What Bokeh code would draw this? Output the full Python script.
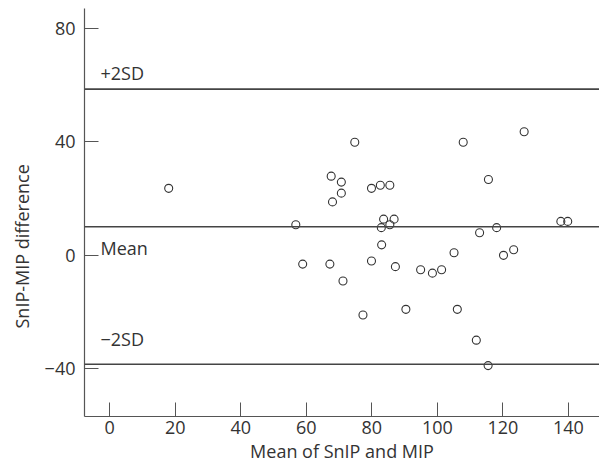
from bokeh.plotting import figure
from bokeh.models import Span, Label, Range1d, FixedTicker, Title
from bokeh.embed import file_html
from bokeh.resources import INLINE

# Bland-Altman data: mean of SnIP and MIP vs difference
mean_vals = [18.0, 56.8, 58.9, 67.2, 67.6, 68.0, 70.7, 70.7, 71.2, 74.8,
             77.3, 79.9, 79.9, 82.6, 82.9, 83.0, 83.6, 85.5, 85.5, 86.8,
             87.2, 90.4, 94.9, 98.5, 101.3, 105.1, 106.1, 107.9, 111.9, 112.9,
             115.6, 115.5, 118.1, 120.2, 123.3, 126.5, 137.7, 139.8]
diff_vals = [23.6, 10.7, -3.2, -3.2, 27.9, 18.8, 25.8, 21.9, -9.2, 39.9,
             -21.2, 23.6, -2.1, 24.7, 9.7, 3.6, 12.7, 24.7, 10.7, 12.7,
             -4.1, -19.2, -5.2, -6.4, -5.2, 0.8, -19.2, 39.9, -30.1, 7.9,
             26.7, -39.1, 9.7, -0.1, 1.9, 43.6, 11.9, 11.9]
mean_diff = 10.0
upper_sd = 58.7
lower_sd = -38.6
x_ticks = [0, 20, 40, 60, 80, 100, 120, 140]
y_ticks = [-40, 0, 40, 80]

FONT = "Open Sans"
FS = "18px"
TXT = "#333333"

p = figure(width=599, height=466, output_backend="svg", toolbar_location=None,
           x_range=Range1d(-7.7, 149.5), y_range=Range1d(-57.1, 87.2),
           min_border_left=84, min_border_right=0, min_border_top=8,
           min_border_bottom=50)
p.outline_line_color = None
p.grid.visible = False

for ax in (p.xaxis[0], p.yaxis[0]):
    ax.axis_line_color = "#555555"
    ax.axis_line_width = 1.2
    ax.major_tick_line_color = "#555555"
    ax.major_tick_in = 14
    ax.major_tick_out = 0
    ax.minor_tick_line_color = None
    ax.major_label_text_font = FONT
    ax.major_label_text_font_size = FS
    ax.major_label_text_color = TXT

p.xaxis[0].ticker = FixedTicker(ticks=x_ticks)
p.yaxis[0].ticker = FixedTicker(ticks=y_ticks)
p.yaxis[0].major_label_standoff = 9
p.xaxis[0].major_label_standoff = 4
p.yaxis[0].major_label_overrides = {-40: "\u221240"}

p.xaxis[0].axis_label = "Mean of SnIP and MIP"
p.xaxis[0].axis_label_text_font = FONT
p.xaxis[0].axis_label_text_font_size = FS
p.xaxis[0].axis_label_text_font_style = "normal"
p.xaxis[0].axis_label_text_color = TXT
p.xaxis[0].axis_label_standoff = 2

for val in (upper_sd, mean_diff, lower_sd):
    p.add_layout(Span(location=val, dimension="width", line_color="#444444",
                      line_width=1.6))

p.scatter(mean_vals, diff_vals, marker="circle", size=8, fill_color=None,
          line_color="#333333", line_width=1.1)

def lab(text, yv, yoff):
    p.add_layout(Label(x=16, x_units="screen", y=yv, y_units="data",
                       y_offset=yoff, text=text, text_font=FONT,
                       text_font_size=FS, text_color=TXT,
                       text_baseline="middle", text_align="left"))

lab("+2SD", upper_sd, 16)
lab("Mean", mean_diff, -21)
lab("\u22122SD", lower_sd, 25)

ytitle = Title(text="SnIP-MIP difference", align="left", offset=88,
               text_font=FONT, text_font_size=FS, text_color=TXT,
               text_font_style="normal", standoff=15)
p.add_layout(ytitle, "left")

open("out.html", "w").write(file_html(p, INLINE))
